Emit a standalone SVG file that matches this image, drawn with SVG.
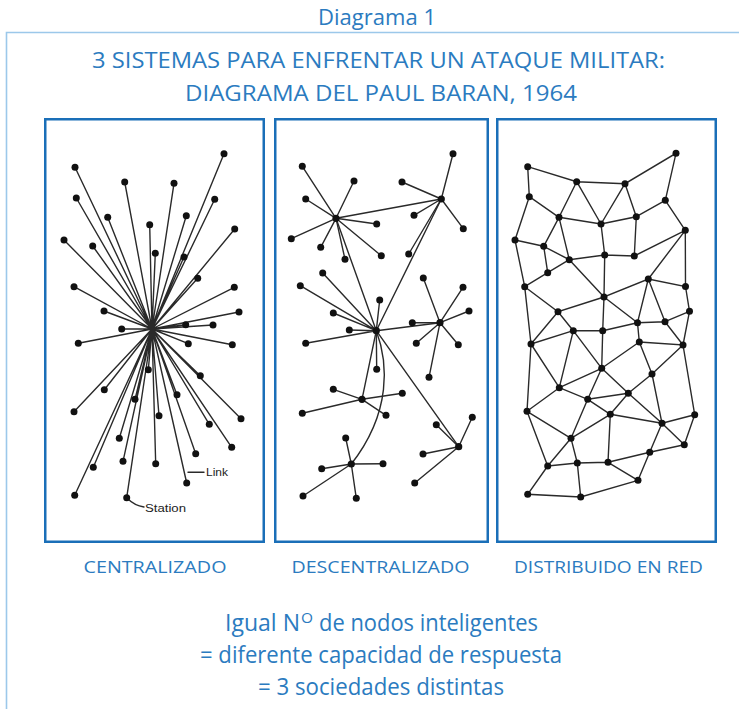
<svg xmlns="http://www.w3.org/2000/svg" width="739" height="709" viewBox="0 0 739 709">
<style>
.t{font-family:"Open Sans","Lato","Liberation Sans",sans-serif;fill:#2b7bc0;text-anchor:middle}
.ts{font-family:"Open Sans","Lato","Liberation Sans",sans-serif;fill:#2b7bc0}
.panel{fill:#fff;stroke:#1a6fb8;stroke-width:2.5}
.frame{fill:none;stroke:#9cc8ea;stroke-width:1.6}
.e{stroke:#2a2a2a;stroke-width:1.4;fill:none;stroke-linecap:round}
.n{fill:#111}
.ann{font-family:"Liberation Sans",Arial,sans-serif;font-size:10px;fill:#222}
</style>
<rect width="739" height="709" fill="#fff"/>
<g id="frame">
<path class="frame" d="M739,32.5 H6.5 V709"/>
</g>
<g id="headings">
<text class="t" x="377" y="25" font-size="22" textLength="118" lengthAdjust="spacingAndGlyphs">Diagrama 1</text>
<text class="t" x="378.5" y="68" font-size="22" textLength="573" lengthAdjust="spacingAndGlyphs">3 SISTEMAS PARA ENFRENTAR UN ATAQUE MILITAR:</text>
<text class="t" x="381" y="101" font-size="22" textLength="392" lengthAdjust="spacingAndGlyphs">DIAGRAMA DEL PAUL BARAN, 1964</text>
</g>
<g id="panel-centralizado">
<rect class="panel" x="45.25" y="119.25" width="218.5" height="422.5"/>
</g>
<g id="panel-descentralizado">
<rect class="panel" x="275.25" y="119.25" width="212.5" height="422.5"/>
</g>
<g id="panel-distribuido">
<rect class="panel" x="497.25" y="119.25" width="218.5" height="422.5"/>
</g>
<g id="connectors">
<g id="edges-centralizado" class="e">
<path d="M152,329L224,153.7M152,329L75,167.3M152,329L124.7,182M152,329L174,183.3M152,329L76.3,198M152,329L214.7,199.3M152,329L107.7,217.3M152,329L186.3,215.7M152,329L149.7,224.7M152,329L234.7,229M152,329L64,240M152,329L92.7,246M152,329L155.3,253.3M152,329L184,257M152,329L197.7,278.3M152,329L74,286.7M152,329L234.3,287.3M152,329L104,311M152,329L239,312M152,329L121.7,329M152,329L185.7,324.7M152,329L213,325M152,329L78.3,343.3M152,329L188.3,343.7M152,329L232.3,344.7M152,329L148.3,369.7M152,329L200.3,375.7M152,329L104.3,389.7M152,329L135,399.3M152,329L177,394.7M152,329L74,411.7M152,329L159,415.7M152,329L241,418.7M152,329L209.3,424.3M152,329L119.3,438.3M152,329L231.7,447.3M152,329L195.7,453.7M152,329L123,461.3M152,329L93.3,467.3M152,329L155.7,463.7M152,329L186.7,483M152,329L74.7,495.3M152,329L126.7,497.7"/>
</g>
<g id="edges-descentralizado" class="e">
<path d="M336,218.3L302.3,166.3M336,218.3L354,181M336,218.3L305.7,199M336,218.3L376.7,224M336,218.3L291.3,238.7M336,218.3L320.7,247.3M336,218.3L381.3,255.7M336,218.3L345,259.3"/>
<path d="M441.3,199L453,153.7M441.3,199L402,182M441.3,199L414,215.3M441.3,199L463.3,228.7M441.3,199L408.7,254"/>
<path d="M376.3,330.7L300.3,285.7M376.3,330.7L322.7,273M376.3,330.7L333.3,313M376.3,330.7L379.7,300M376.3,330.7L349.3,330M376.3,330.7L305.7,343.3M376.3,330.7L376.7,369.3"/>
<path d="M440,322.7L423.3,278M440,322.7L463,287.3M440,322.7L469,311M440,322.7L412.3,322.7M440,322.7L416.3,343.3M440,322.7L458.3,344.7M440,322.7L429,377.3"/>
<path d="M362,399.3L333.3,389.3M362,399.3L402.3,393.3M362,399.3L302.3,413.3M362,399.3L386,415.3"/>
<path d="M458.7,446.7L472.3,417.3M458.7,446.7L436.3,424.7M458.7,446.7L423,454M458.7,446.7L414.7,483"/>
<path d="M351.3,464L345.7,438M351.3,464L321.7,468.7M351.3,464L383,463.7M351.3,464L303,496M351.3,464L356.3,498.3"/>
<path d="M336,218.3L441.3,199M336,218.3L376.3,330.7M441.3,199L376.3,330.7M376.3,330.7L440,322.7M376.3,330.7L362,399.3M376.3,330.7L458.7,446.7"/>
<path d="M376.3,330.7C388,362 392,412 351.3,464"/>
</g>
<g id="edges-distribuido" class="e">
<path d="M527.7,166.7L576.7,181.7L625,183.7L676,153.3L665.3,200.3M527.7,166.7L529.3,196.7L559,217.3M529.3,196.7L515,240M576.7,181.7L559,217.3M576.7,181.7L601,224M625,183.7L601,224M625,183.7L636.3,216.7M665.3,200.3L636.3,216.7M665.3,200.3L685.3,230.3M559,217.3L601,224L636.3,216.7L634.3,256M559,217.3L543.7,246.3M559,217.3L569.3,259.7M601,224L604.7,255M515,240L543.7,246.3M515,240L524.7,286.7M543.7,246.3L547.7,272.7M543.7,246.3L569.3,259.7L604.7,255L634.3,256L685.3,230.3L648.3,279M685.3,230.3L685.5,286.5M547.7,272.7L524.7,286.7M547.7,272.7L569.3,259.7M569.3,259.7L604,297M604.7,255L604,297L648.3,279L685.5,286.5L689.5,311.3M524.7,286.7L558,311.7L604,297"/>
<path d="M524.7,286.7L531,344M558,311.7L573.3,330.7M558,311.7L531,344M604,297L602.7,330.7M604,297L637.5,322.7M648.3,279L637.5,322.7M648.3,279L665,321.7M689.5,311.3L665,321.7M689.5,311.3L683,345M637.5,322.7L665,321.7M637.5,322.7L639.3,342M573.3,330.7L602.7,330.7L637.5,322.7M639.3,342L683,345L665,321.7M531,344L573.3,330.7"/>
<path d="M531,344L559.3,387.7M531,344L527,411.3M573.3,330.7L559.3,387.7M573.3,330.7L601.7,368.3M602.7,330.7L601.7,368.3M639.3,342L601.7,368.3M639.3,342L652,374M683,345L652,374L628.3,393.3M683,345L694.7,414.7M601.7,368.3L559.3,387.7M601.7,368.3L587.7,399.3M601.7,368.3L628.3,393.3M559.3,387.7L587.7,399.3L628.3,393.3M559.3,387.7L527,411.3M587.7,399.3L610.3,414.3M587.7,399.3L571,438.3M628.3,393.3L610.3,414.3M628.3,393.3L662,423.3M652,374L662,423.3M610.3,414.3L662,423.3M610.3,414.3L571,438.3M610.3,414.3L608,462.3M694.7,414.7L662,423.3M694.7,414.7L684.3,444.7M662,423.3L684.3,444.7M662,423.3L649.7,452.3"/>
<path d="M527,411.3L571,438.3M527,411.3L547.7,466M571,438.3L547.7,466M571,438.3L577.3,463M547.7,466L577.3,463L608,462.3L649.7,452.3L684.3,444.7M608,462.3L638,480.3M649.7,452.3L638,480.3M547.7,466L527.7,494.3L580.7,497L638,480.3M577.3,463L580.7,497"/>
</g>
<g id="annotations">
<path class="e" d="M188,472.3H204" stroke-width="1"/>
<path class="e" d="M128,499C133,504 138,506 144,507" stroke-width="1"/>
</g>
</g>
<g id="nodes-centralizado" class="n">
<circle cx="224" cy="153.7" r="3.5"/><circle cx="75" cy="167.3" r="3.5"/><circle cx="124.7" cy="182" r="3.5"/><circle cx="174" cy="183.3" r="3.5"/><circle cx="76.3" cy="198" r="3.5"/><circle cx="214.7" cy="199.3" r="3.5"/><circle cx="107.7" cy="217.3" r="3.5"/><circle cx="186.3" cy="215.7" r="3.5"/><circle cx="149.7" cy="224.7" r="3.5"/><circle cx="234.7" cy="229" r="3.5"/><circle cx="64" cy="240" r="3.5"/><circle cx="92.7" cy="246" r="3.5"/><circle cx="155.3" cy="253.3" r="3.5"/><circle cx="184" cy="257" r="3.5"/><circle cx="197.7" cy="278.3" r="3.5"/><circle cx="74" cy="286.7" r="3.5"/><circle cx="234.3" cy="287.3" r="3.5"/><circle cx="104" cy="311" r="3.5"/><circle cx="239" cy="312" r="3.5"/><circle cx="121.7" cy="329" r="3.5"/><circle cx="185.7" cy="324.7" r="3.5"/><circle cx="213" cy="325" r="3.5"/><circle cx="78.3" cy="343.3" r="3.5"/><circle cx="188.3" cy="343.7" r="3.5"/><circle cx="232.3" cy="344.7" r="3.5"/><circle cx="148.3" cy="369.7" r="3.5"/><circle cx="200.3" cy="375.7" r="3.5"/><circle cx="104.3" cy="389.7" r="3.5"/><circle cx="135" cy="399.3" r="3.5"/><circle cx="177" cy="394.7" r="3.5"/><circle cx="74" cy="411.7" r="3.5"/><circle cx="159" cy="415.7" r="3.5"/><circle cx="241" cy="418.7" r="3.5"/><circle cx="209.3" cy="424.3" r="3.5"/><circle cx="119.3" cy="438.3" r="3.5"/><circle cx="231.7" cy="447.3" r="3.5"/><circle cx="195.7" cy="453.7" r="3.5"/><circle cx="123" cy="461.3" r="3.5"/><circle cx="93.3" cy="467.3" r="3.5"/><circle cx="155.7" cy="463.7" r="3.5"/><circle cx="186.7" cy="483" r="3.5"/><circle cx="74.7" cy="495.3" r="3.5"/><circle cx="126.7" cy="497.7" r="3.5"/>
</g>
<g id="annotation-labels">
<text class="ann" x="206" y="476" textLength="22" lengthAdjust="spacingAndGlyphs">Link</text>
<text class="ann" x="145" y="512" textLength="41" lengthAdjust="spacingAndGlyphs">Station</text>
</g>
<g id="nodes-descentralizado" class="n">
<circle cx="336" cy="218.3" r="3.6"/><circle cx="441.3" cy="199" r="3.6"/><circle cx="376.3" cy="330.7" r="3.6"/><circle cx="440" cy="322.7" r="3.6"/><circle cx="362" cy="399.3" r="3.6"/><circle cx="458.7" cy="446.7" r="3.6"/><circle cx="351.3" cy="464" r="3.6"/>
<circle cx="302.3" cy="166.3" r="3.5"/><circle cx="354" cy="181" r="3.5"/><circle cx="305.7" cy="199" r="3.5"/><circle cx="376.7" cy="224" r="3.5"/><circle cx="291.3" cy="238.7" r="3.5"/><circle cx="320.7" cy="247.3" r="3.5"/><circle cx="381.3" cy="255.7" r="3.5"/><circle cx="345" cy="259.3" r="3.5"/>
<circle cx="453" cy="153.7" r="3.5"/><circle cx="402" cy="182" r="3.5"/><circle cx="414" cy="215.3" r="3.5"/><circle cx="463.3" cy="228.7" r="3.5"/><circle cx="408.7" cy="254" r="3.5"/>
<circle cx="300.3" cy="285.7" r="3.5"/><circle cx="322.7" cy="273" r="3.5"/><circle cx="333.3" cy="313" r="3.5"/><circle cx="379.7" cy="300" r="3.5"/><circle cx="349.3" cy="330" r="3.5"/><circle cx="305.7" cy="343.3" r="3.5"/><circle cx="376.7" cy="369.3" r="3.5"/>
<circle cx="423.3" cy="278" r="3.5"/><circle cx="463" cy="287.3" r="3.5"/><circle cx="469" cy="311" r="3.5"/><circle cx="412.3" cy="322.7" r="3.5"/><circle cx="416.3" cy="343.3" r="3.5"/><circle cx="458.3" cy="344.7" r="3.5"/><circle cx="429" cy="377.3" r="3.5"/>
<circle cx="333.3" cy="389.3" r="3.5"/><circle cx="402.3" cy="393.3" r="3.5"/><circle cx="302.3" cy="413.3" r="3.5"/><circle cx="386" cy="415.3" r="3.5"/>
<circle cx="472.3" cy="417.3" r="3.5"/><circle cx="436.3" cy="424.7" r="3.5"/><circle cx="423" cy="454" r="3.5"/><circle cx="414.7" cy="483" r="3.5"/>
<circle cx="345.7" cy="438" r="3.5"/><circle cx="321.7" cy="468.7" r="3.5"/><circle cx="383" cy="463.7" r="3.5"/><circle cx="303" cy="496" r="3.5"/><circle cx="356.3" cy="498.3" r="3.5"/>
</g>
<g id="nodes-distribuido" class="n">
<circle cx="676" cy="153.3" r="3.5"/><circle cx="527.7" cy="166.7" r="3.5"/><circle cx="576.7" cy="181.7" r="3.5"/><circle cx="625" cy="183.7" r="3.5"/><circle cx="529.3" cy="196.7" r="3.5"/><circle cx="665.3" cy="200.3" r="3.5"/><circle cx="559" cy="217.3" r="3.5"/><circle cx="636.3" cy="216.7" r="3.5"/><circle cx="601" cy="224" r="3.5"/><circle cx="685.3" cy="230.3" r="3.5"/><circle cx="515" cy="240" r="3.5"/><circle cx="543.7" cy="246.3" r="3.5"/><circle cx="569.3" cy="259.7" r="3.5"/><circle cx="604.7" cy="255" r="3.5"/><circle cx="634.3" cy="256" r="3.5"/><circle cx="547.7" cy="272.7" r="3.5"/><circle cx="648.3" cy="279" r="3.5"/><circle cx="524.7" cy="286.7" r="3.5"/><circle cx="685.5" cy="286.5" r="3.5"/><circle cx="604" cy="297" r="3.5"/><circle cx="558" cy="311.7" r="3.5"/><circle cx="689.5" cy="311.3" r="3.5"/>
<circle cx="637.5" cy="322.7" r="3.5"/><circle cx="665" cy="321.7" r="3.5"/><circle cx="573.3" cy="330.7" r="3.5"/><circle cx="602.7" cy="330.7" r="3.5"/><circle cx="531" cy="344" r="3.5"/><circle cx="639.3" cy="342" r="3.5"/><circle cx="683" cy="345" r="3.5"/><circle cx="601.7" cy="368.3" r="3.5"/><circle cx="652" cy="374" r="3.5"/><circle cx="559.3" cy="387.7" r="3.5"/><circle cx="628.3" cy="393.3" r="3.5"/><circle cx="587.7" cy="399.3" r="3.5"/><circle cx="527" cy="411.3" r="3.5"/><circle cx="610.3" cy="414.3" r="3.5"/><circle cx="694.7" cy="414.7" r="3.5"/><circle cx="662" cy="423.3" r="3.5"/><circle cx="571" cy="438.3" r="3.5"/><circle cx="684.3" cy="444.7" r="3.5"/><circle cx="649.7" cy="452.3" r="3.5"/><circle cx="547.7" cy="466" r="3.5"/><circle cx="577.3" cy="463" r="3.5"/><circle cx="608" cy="462.3" r="3.5"/><circle cx="638" cy="480.3" r="3.5"/><circle cx="527.7" cy="494.3" r="3.5"/><circle cx="580.7" cy="497" r="3.5"/>
</g>
<g id="labels">
<text class="t" x="155" y="573" font-size="17" textLength="143" lengthAdjust="spacingAndGlyphs">CENTRALIZADO</text>
<text class="t" x="380.5" y="573" font-size="17" textLength="178" lengthAdjust="spacingAndGlyphs">DESCENTRALIZADO</text>
<text class="t" x="608.5" y="573" font-size="17" textLength="189" lengthAdjust="spacingAndGlyphs">DISTRIBUIDO EN RED</text>
</g>
<g id="conclusion">
<text class="ts" x="225" y="631" font-size="23" textLength="75" lengthAdjust="spacingAndGlyphs">Igual N</text>
<text class="ts" x="301" y="623" font-size="14" textLength="12" lengthAdjust="spacingAndGlyphs">O</text>
<text class="ts" x="319" y="631" font-size="23" textLength="219" lengthAdjust="spacingAndGlyphs">de nodos inteligentes</text>
<text class="t" x="381" y="663" font-size="23" textLength="362" lengthAdjust="spacingAndGlyphs">= diferente capacidad de respuesta</text>
<text class="t" x="381" y="695" font-size="23" textLength="246" lengthAdjust="spacingAndGlyphs">= 3 sociedades distintas</text>
</g>
</svg>
